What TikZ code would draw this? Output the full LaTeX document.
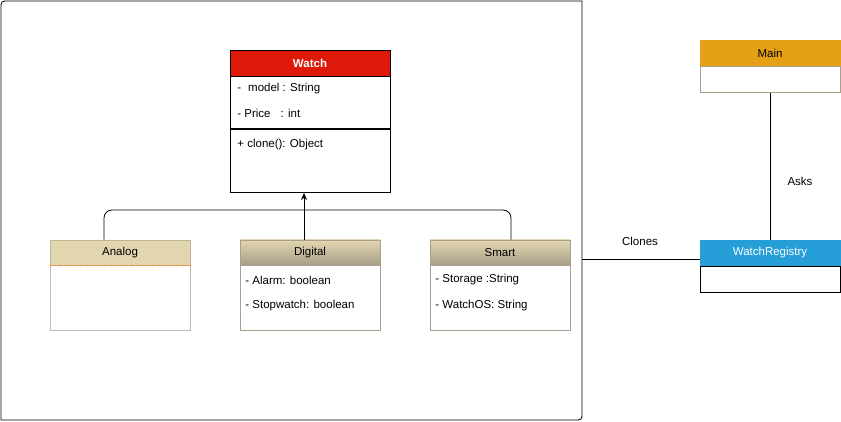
\documentclass[tikz,border=0pt]{standalone}
\usepackage{fontspec}
\setmainfont{Liberation Sans}
\usetikzlibrary{arrows.meta, positioning}

\definecolor{watchred}{RGB}{221,26,10}
\definecolor{mainorange}{RGB}{230,160,24}
\definecolor{registryblue}{RGB}{38,158,216}
\definecolor{headtan}{RGB}{226,214,176}
\definecolor{headgray}{RGB}{168,158,138}
\definecolor{boxline}{RGB}{170,158,140}

\begin{document}
\begin{tikzpicture}[>={Stealth[length=7pt, width=6pt]}, x=1pt, y=-1pt, line width=0.8pt,
    font=\fontsize{11.5}{13}\selectfont,
    head/.style={draw, minimum width=140pt, minimum height=26pt, inner sep=0pt},
    body/.style={draw, minimum width=140pt, inner sep=0pt},
    attr/.style={anchor=west, inner sep=0pt}]
    \useasboundingbox (0,0) rectangle (841,422);

    % Frame round the watch classes
    \draw (582,1) -- (582,412) .. controls (582,420) .. (574,420) -- (1,420)
        -- (1,9) .. controls (1,1) .. (9,1) -- cycle;
    \coordinate (frameedge) at (582,259);
    \coordinate (bar) at (0,210);

    % Watch class
    \node (watch) at (310,63) [head, minimum width=160pt, fill=watchred, text=white] {\textbf{Watch}};
    \node (watchattr) [body, minimum width=160pt, minimum height=52pt, below=0pt of watch] {};
    \node (watchops) [body, minimum width=160pt, minimum height=63pt, below=0pt of watchattr] {};
    \node [attr] at (237,89) {-\hspace{7pt}model : String};
    \node [attr] at (237,113) {- Price\hspace{10pt}: int};
    \node [attr] at (237,145) {+ clone(): Object};

    % Subclasses
    \node (analog) at (120,252.5) [head, minimum height=25pt, draw=headtan!85!black, fill=headtan] {Analog};
    \node (analogbody) [body, minimum height=65pt, draw=boxline!70, below=0pt of analog] {};
    \draw [orange, densely dotted] (analog.south west) -- (analog.south east);

    \node (digital) at (310,252.5) [head, minimum height=25pt, draw=boxline, top color=headtan, bottom color=headgray] {Digital};
    \node (digitalbody) [body, minimum height=65pt, draw=boxline, below=0pt of digital] {};
    \node [attr] at (245,280) {- Alarm: boolean};
    \node [attr] at (245,306) {- Stopwatch: boolean};

    \node (smart) at (500,252.5) [head, minimum height=25pt, draw=boxline, top color=headtan, bottom color=headgray] {Smart};
    \node (smartbody) [body, minimum height=65pt, draw=boxline, below=0pt of smart] {};
    \node [attr] at (435,280) {- Storage :String};
    \node [attr] at (435,306) {- WatchOS: String};

    % Main and registry
    \node (main) at (770,53) [head, draw=mainorange, fill=mainorange] {Main};
    \node (mainbody) [body, minimum height=26pt, draw=boxline, below=0pt of main] {};
    \node (registry) at (770,253) [head, draw=registryblue, fill=registryblue, text=white] {WatchRegistry};
    \node (registrybody) [body, minimum height=26pt, below=0pt of registry] {};

    % Connectors
    \coordinate (analogtop) at ([xshift=-16pt]analog.north);
    \coordinate (smarttop) at ([xshift=11pt]smart.north);
    \draw [->] ([xshift=-6pt]digital.north) -- ([xshift=-6pt]watchops.south);
    \draw [rounded corners=8] (analogtop) |- (bar -| smarttop) -- (smarttop);
    \draw (frameedge) -- (frameedge -| registry.west);
    \draw (mainbody.south) -- (registry.north);
    \node (cloneslabel) at (640,241) {Clones};
    \node (askslabel) at (800,181) {Asks};
\end{tikzpicture}
\end{document}
